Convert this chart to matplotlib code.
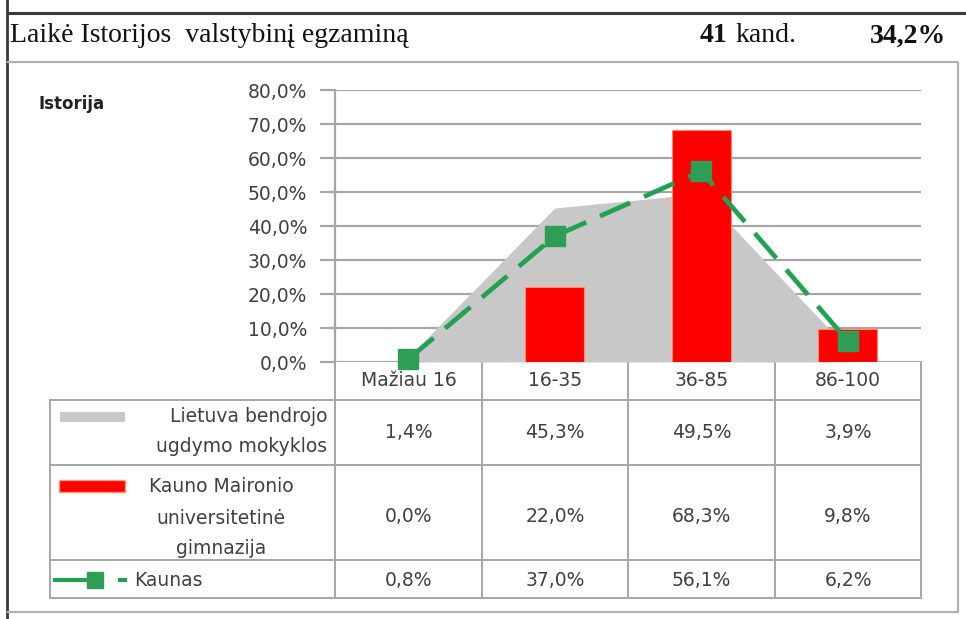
import numpy as np
import matplotlib.pyplot as plt

categories = ["Mažiau 16", "16-35", "36-85", "86-100"]
lietuva = [1.4, 45.3, 49.5, 3.9]
maironio = [0.0, 22.0, 68.3, 9.8]
kaunas = [0.8, 37.0, 56.1, 6.2]
yticks = [0, 10, 20, 30, 40, 50, 60, 70, 80]

W, H = 966, 619
SANS = "DejaVu Sans"
SERIF = "Liberation Serif"
GRAY = "#c8c8c8"
RED = "#ff0000"
GREEN = "#21a152"
LINE = "#a6a6a6"
TXT = "#404040"
FS = 13.5


def pct(v):
    return f"{v:.1f}%".replace(".", ",")


fig = plt.figure(figsize=(W / 100, H / 100), dpi=100)

# chart axes (pixel box 335..921 x 90..362)
ax = fig.add_axes([335 / W, 1 - 362 / H, (921 - 335) / W, (362 - 90) / H])
x = np.arange(len(categories))
ax.fill_between(x, lietuva, 0, color=GRAY, lw=0, zorder=1)
ax.bar(x, maironio, width=0.4, color=RED, edgecolor="#ff8a5c", linewidth=0.8, zorder=3)
ax.plot(x, kaunas, color=GREEN, lw=3.4, dashes=(7, 3.2), marker="s", ms=15,
        mfc="#2e9e56", mec="#2e9e56", zorder=4, clip_on=False)
ax.set_xlim(-0.5, 3.5)
ax.set_ylim(0, 80)
ax.set_yticks(yticks)
ax.set_yticklabels([pct(v) for v in yticks], fontsize=FS, family=SANS, color=TXT)
ax.set_xticks([])
ax.grid(axis="y", color=LINE, lw=1.6, zorder=0)
ax.tick_params(axis="y", length=11, width=1.6, color=LINE, pad=9)
for s in ["top", "right", "bottom"]:
    ax.spines[s].set_visible(False)
ax.spines["left"].set_color(LINE)
ax.spines["left"].set_linewidth(1.6)
ax.set_axisbelow(True)

# overlay in pixel coordinates for header, frame and data table
ov = fig.add_axes([0, 0, 1, 1], zorder=-1)
ov.set_xlim(0, W)
ov.set_ylim(H, 0)
ov.axis("off")

# frame
ov.plot([8, W], [13, 13], color="#3a3a3a", lw=2.2)
ov.plot([7, 7], [0, H], color="#3a3a3a", lw=2)
ov.plot([8, 958, 958, 8], [62, 62, 612, 612], color="#b0b0b0", lw=1.6)

# header
ov.text(10, 36, "Laikė Istorijos  valstybinį egzaminą", family=SERIF, fontsize=20,
        va="center", ha="left", color="#111111")
ov.text(700, 36, "41", family=SERIF, fontsize=20, fontweight="bold", va="center", color="#111111")
ov.text(735, 36, "kand.", family=SERIF, fontsize=20, va="center", color="#111111")
ov.text(946, 36, "34,2%", family=SERIF, fontsize=20, fontweight="bold", va="center",
        ha="right", color="#111111")
ov.text(38, 104, "Istorija", family=SANS, fontsize=12, fontweight="bold", va="center", color="#222222")

# data table
col_edges = [335, 482, 628, 775, 921]
rows = [400, 465, 560, 598]
for cx in col_edges:
    ov.plot([cx, cx], [362, 598], color=LINE, lw=1.4)
ov.plot([50, 50], [400, 598], color=LINE, lw=1.4)
for ry in rows:
    ov.plot([50, 921], [ry, ry], color=LINE, lw=1.4)

centers = [(a + b) / 2 for a, b in zip(col_edges[:-1], col_edges[1:])]
for cx, lab in zip(centers, categories):
    ov.text(cx, 381, lab, family=SANS, fontsize=FS, ha="center", va="center", color=TXT)

row_mid = [432, 516, 580]
for series, ym in zip([lietuva, maironio, kaunas], row_mid):
    for cx, v in zip(centers, series):
        ov.text(cx, ym, pct(v), family=SANS, fontsize=FS, ha="center", va="center", color=TXT)

# legend keys and series names
ov.add_patch(plt.Rectangle((60, 412), 65, 10, color=GRAY, lw=0))
ov.text(327, 417, "Lietuva bendrojo", family=SANS, fontsize=FS, ha="right", va="center", color=TXT)
ov.text(327, 446, "ugdymo mokyklos", family=SANS, fontsize=FS, ha="right", va="center", color=TXT)

ov.add_patch(plt.Rectangle((59, 480), 66, 12, facecolor=RED, edgecolor="#ff9a70", lw=1))
ov.text(221, 487, "Kauno Maironio", family=SANS, fontsize=FS, ha="center", va="center", color=TXT)
ov.text(221, 518, "universitetinė", family=SANS, fontsize=FS, ha="center", va="center", color=TXT)
ov.text(221, 549, "gimnazija", family=SANS, fontsize=FS, ha="center", va="center", color=TXT)

ov.plot([55, 88], [580, 580], color=GREEN, lw=3)
ov.plot([95], [580], marker="s", ms=12, color="#2e9e56")
ov.plot([120, 125], [580, 580], color=GREEN, lw=3)
ov.text(134, 580, "Kaunas", family=SANS, fontsize=FS, ha="left", va="center", color=TXT)

fig.savefig("out.png", dpi=100)
